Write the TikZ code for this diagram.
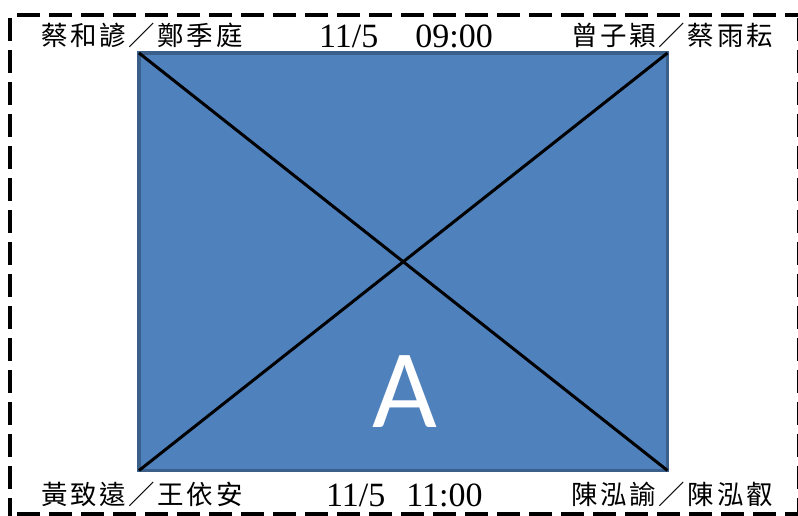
\documentclass[tikz,border=0pt]{standalone}
\usepackage{fontspec}
\setmainfont{Liberation Serif}
\newfontfamily\cjk[LetterSpace=10]{Noto Sans CJK TC}
\newfontfamily\carl{Carlito}
\definecolor{boxfill}{HTML}{4F81BD}
\definecolor{boxline}{HTML}{3A5F8B}
\tikzset{
  frameline/.style={line width=4pt, dash pattern=on 23pt off 9pt},
  label/.style={inner sep=0pt, font=\fontsize{26.5}{28}\selectfont\cjk},
  datelabel/.style={inner sep=0pt, font=\fontsize{34}{36}\selectfont},
  diag/.style={line width=3pt, black},
}
\begin{document}
\begin{tikzpicture}[x=1pt,y=-1pt]
\useasboundingbox (0,0) rectangle (798,515);
\begin{scope}
\clip (0,0) rectangle (798,515);
\coordinate (t1) at (17,14.5);
\coordinate (t2) at (800,14.5);
\coordinate (l1) at (9.5,18);
\coordinate (l2) at (9.5,517);
\coordinate (r1) at (798.5,18);
\coordinate (r2) at (798.5,517);
\coordinate (b1) at (17,514);
\coordinate (b2) at (800,514);
\draw[frameline] (t1) -- (t2);
\draw[frameline] (l1) -- (l2);
\draw[frameline] (r1) -- (r2);
\draw[frameline] (b1) -- (b2);
\end{scope}
\coordinate (nw) at (139,53);
\coordinate (ne) at (667.5,53);
\coordinate (sw) at (139,470.5);
\coordinate (se) at (667.5,470.5);
\draw[fill=boxfill, draw=boxline, line width=3.2pt] (nw) rectangle (se);
\draw[diag] (nw) -- (se);
\draw[diag] (ne) -- (sw);
\node[inner sep=0pt, text=white, font=\fontsize{112}{112}\selectfont\carl] (A) at (405,392) {A};
\node[label, anchor=west] (tl) at (41,35) {蔡和諺／鄭季庭};
\node[label, anchor=east] (tr) at (773,35) {曾子穎／蔡雨耘};
\node[label, anchor=west] (bl) at (41,494) {黃致遠／王依安};
\node[label, anchor=east] (br) at (773,494) {陳泓諭／陳泓叡};
\node[datelabel, anchor=base west] (td) at (319,47) {11/5\hspace{37pt}09:00};
\node[datelabel, anchor=base west] (bd) at (326,506) {11/5\hspace{21pt}11:00};
\end{tikzpicture}
\end{document}
